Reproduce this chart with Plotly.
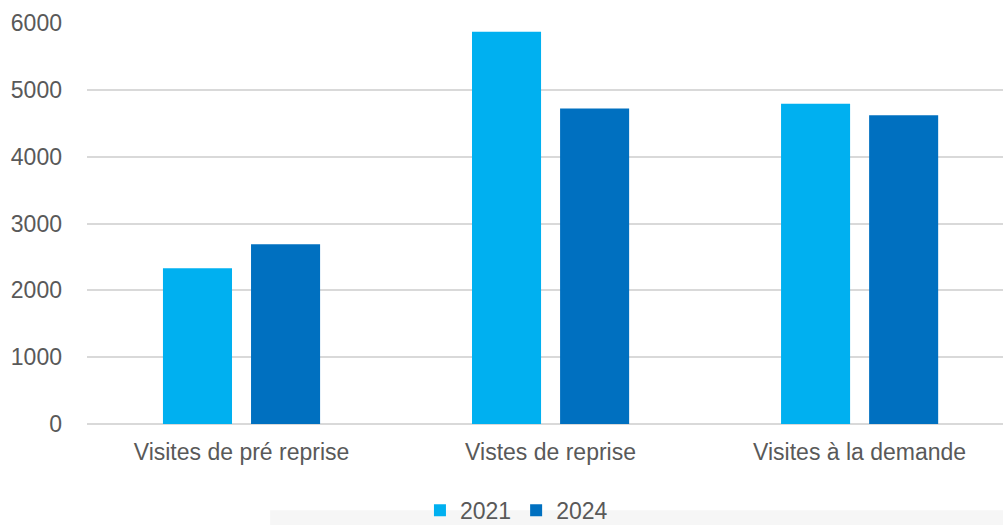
import plotly.graph_objects as go

categories = ["Visites de pré reprise", "Vistes de reprise", "Visites à la demande"]
series_names = ["2021", "2024"]
values_2021 = [2330, 5870, 4790]
values_2024 = [2690, 4720, 4620]
colors = ["#00B0F0", "#0070C0"]
y_ticks = [0, 1000, 2000, 3000, 4000, 5000, 6000]

font_family = "Liberation Sans, Arial, sans-serif"
text_color = "#595959"

fig = go.Figure()
for name, vals, col in zip(series_names, [values_2021, values_2024], colors):
    fig.add_trace(go.Bar(
        x=categories, y=vals, name=name,
        marker=dict(color=col, line=dict(width=0)),
    ))

fig.update_layout(
    width=1003, height=525,
    margin=dict(l=87, r=0, t=23, b=101, autoexpand=False),
    paper_bgcolor="white", plot_bgcolor="white",
    barmode="group", bargap=0.43, bargroupgap=0.216,
    font=dict(family=font_family, color=text_color, size=22),
    showlegend=True,
    legend=dict(
        orientation="h", xref="container", yref="container",
        x=0.4187, xanchor="left", y=0.028, yanchor="middle",
        font=dict(size=23, color=text_color),
        itemwidth=30, tracegroupgap=0,
        bgcolor="rgba(0,0,0,0)",
    ),
    xaxis=dict(
        type="category", range=[-0.5, 2.464],
        showgrid=False, showline=False, ticks="",
        tickfont=dict(size=23, color=text_color),
        ticklabelstandoff=12, tickangle=0, automargin=False,
    ),
    yaxis=dict(
        range=[0, 6000], tickvals=y_ticks,
        showgrid=True, gridcolor="#D9D9D9", gridwidth=2,
        zeroline=True, zerolinecolor="#D9D9D9", zerolinewidth=2,
        showline=False, ticks="",
        tickfont=dict(size=23, color=text_color),
        ticklabelstandoff=24, automargin=False,
    ),
)

fig.add_shape(type="rect", xref="paper", yref="paper",
              x0=0.2, x1=1.0, y0=-0.26, y1=-0.215,
              fillcolor="#F6F6F6", line=dict(width=0), layer="below")

fig.write_html("out.html", config={"displayModeBar": False},
               post_script="document.body.style.margin='0';")
